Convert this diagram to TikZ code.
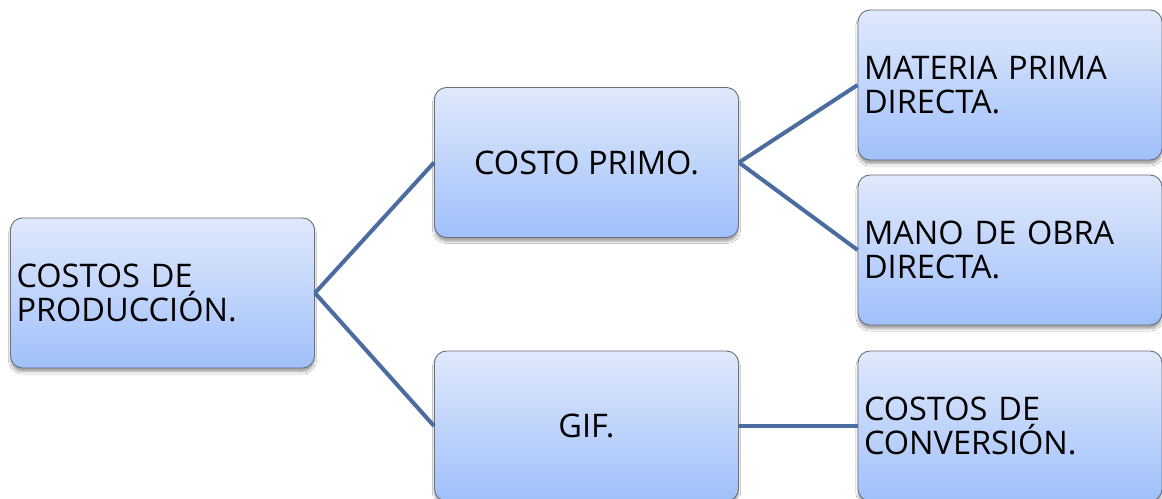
\documentclass[tikz,border=0pt]{standalone}
\usepackage{fontspec}
\setmainfont{Open Sans}
\usetikzlibrary{shadows.blur}
\definecolor{boxtop}{RGB}{224,233,252}
\definecolor{boxbot}{RGB}{160,192,250}
\definecolor{boxedge}{RGB}{105,112,124}
\definecolor{linkblue}{RGB}{74,108,160}
\begin{document}
\begin{tikzpicture}[x=1pt,y=1pt,
  box/.style={rounded corners=12pt, draw=boxedge, line width=0.9pt,
    top color=boxtop, bottom color=boxbot,
    minimum width=304pt, minimum height=150pt, inner sep=0pt,
    blur shadow={shadow xshift=0pt, shadow yshift=-4pt, shadow blur steps=6, shadow opacity=35},
    font=\fontsize{32.5}{34}\selectfont},
  lbox/.style={box, text width=292pt, align=left},
  cbox/.style={box, align=center},
  linkline/.style={draw=linkblue, line width=4pt}]
  \clip (0,0) rectangle (1162,498);
  \fill[white] (0,0) rectangle (1162,498);

  % nodes
  \node[lbox] (prod) at (162.5,205) {COSTOS DE\\PRODUCCIÓN.};
  \node[cbox] (primo) at (586.5,335.5) {COSTO PRIMO.};
  \node[cbox] (gif) at (586.5,72) {GIF.};
  \node[lbox] (mp) at (1010,413) {MATERIA PRIMA\\DIRECTA.};
  \node[lbox] (mo) at (1010,248) {MANO DE OBRA\\DIRECTA.};
  \node[lbox] (conv) at (1010,72) {COSTOS DE\\CONVERSIÓN.};

  % connectors
  \draw[linkline] (prod.east) -- (primo.west);
  \draw[linkline] (prod.east) -- (gif.west);
  \draw[linkline] (primo.east) -- (mp.west);
  \draw[linkline] (primo.east) -- (mo.west);
  \draw[linkline] (gif.east) -- (conv.west);
\end{tikzpicture}
\end{document}
